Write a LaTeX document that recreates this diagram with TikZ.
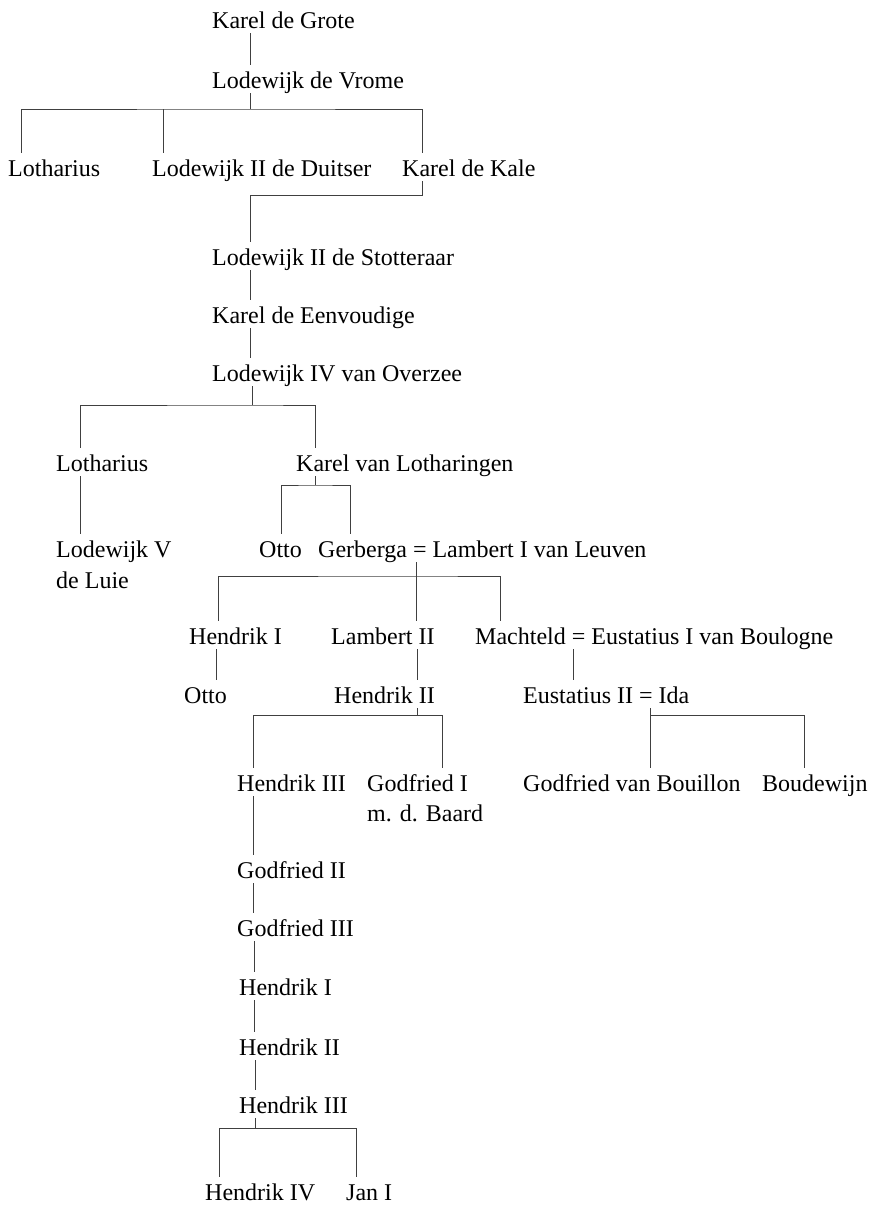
\documentclass[tikz,border=0pt]{standalone}
\usepackage{fontspec}
\setmainfont{Liberation Serif}
\usepackage{tikz}

\begin{document}
\begin{tikzpicture}[x=1pt,y=-1pt,
  person/.style={anchor=base west,inner sep=0pt,text height=23pt,text depth=5pt,font=\fontsize{24}{28}\selectfont},
  line/.style={draw=black!75,line width=0.8pt}]

\useasboundingbox (0,0) rectangle (884,1205);

\node[person] (n0) at (212,28) {Karel de Grote};
\node[person] (n1) at (212,88) {Lodewijk de Vrome};
\node[person] (n2) at (8,176) {Lotharius};
\node[person] (n3) at (152,176) {Lodewijk II de Duitser};
\node[person] (n4) at (402,176) {Karel de Kale};
\node[person] (n5) at (212,265) {Lodewijk II de Stotteraar};
\node[person] (n6) at (212,323) {Karel de Eenvoudige};
\node[person] (n7) at (212,381) {Lodewijk IV van Overzee};
\node[person] (n8) at (56,471) {Lotharius};
\node[person] (n9) at (296,471) {Karel van Lotharingen};
\node[person] (n10) at (56,557) {Lodewijk V};
\node[person] (n10b) at (56,588) {de Luie};
\node[person] (n11) at (259,557) {Otto};
\node[person] (n12) at (318,557) {Gerberga = Lambert I van Leuven};
\node[person] (n13) at (189,644) {Hendrik I};
\node[person] (n14) at (331,644) {Lambert II};
\node[person] (n15) at (475,644) {Machteld = Eustatius I van Boulogne};
\node[person] (n16) at (184,703) {Otto};
\node[person] (n17) at (334,703) {Hendrik II};
\node[person] (n18) at (523,703) {Eustatius II = Ida};
\node[person] (n19) at (237,791) {Hendrik III};
\node[person] (n20) at (367,791) {Godfried I};
\node[person] (n20b) at (367,821) {m. d. Baard};
\node[person] (n21) at (523,791) {Godfried van Bouillon};
\node[person] (n22) at (762,791) {Boudewijn};
\node[person] (n23) at (237,878) {Godfried II};
\node[person] (n24) at (237,936) {Godfried III};
\node[person] (n25) at (239,995) {Hendrik I};
\node[person] (n26) at (239,1055) {Hendrik II};
\node[person] (n27) at (239,1113) {Hendrik III};
\node[person] (n28) at (205,1200) {Hendrik IV};
\node[person] (n29) at (346,1200) {Jan I};

% straight lines
\path[line] (n0.south -| 250,0) edge (n1.north -| 250,0)
(n5.south -| 250,0) edge (n6.north -| 250,0)
(n6.south -| 250,0) edge (n7.north -| 250,0)
(n8.south -| 80,0) edge (n10.north -| 80,0)
(n12.south -| 416,0) edge (n14.north -| 416,0)
(n13.south -| 216,0) edge (n16.north -| 216,0)
(n14.south -| 417,0) edge (n17.north -| 417,0)
(n15.south -| 573,0) edge (n18.north -| 573,0)
(n18.south -| 650,0) edge (n21.north -| 650,0)
(n19.south -| 253,0) edge (n23.north -| 253,0)
(n23.south -| 253,0) edge (n24.north -| 253,0)
(n24.south -| 254,0) edge (n25.north -| 254,0)
(n25.south -| 254,0) edge (n26.north -| 254,0)
(n26.south -| 255,0) edge (n27.north -| 255,0);

% branches
\draw[line] (n1.south -| 250,0) -- (250,109);
\draw[line] (n2.north -| 21,0) |- (250,109) -| (n4.north -| 422,0);
\draw[line] (n3.north -| 163,0) -- (163,109);
\draw[line] (n4.south -| 422,0) -- (422,195) -| (n5.north -| 250,0);
\draw[line] (n7.south -| 252,0) -- (252,405);
\draw[line] (n8.north -| 80,0) |- (252,405) -| (n9.north -| 315,0);
\draw[line] (n9.south -| 315,0) -- (315,485);
\draw[line] (n11.north -| 281,0) |- (315,485) -| (n12.north -| 350,0);
\draw[line] (n13.north -| 218,0) |- (416,576) -| (n15.north -| 500,0);
\draw[line] (n17.south -| 417,0) -- (417,715);
\draw[line] (n19.north -| 253,0) |- (417,715) -| (n20.north -| 442,0);
\draw[line] (650,715) -| (n22.north -| 804,0);
\draw[line] (n27.south -| 255,0) -- (255,1128);
\draw[line] (n28.north -| 219,0) |- (255,1128) -| (n29.north -| 356,0);

\end{tikzpicture}
\end{document}
